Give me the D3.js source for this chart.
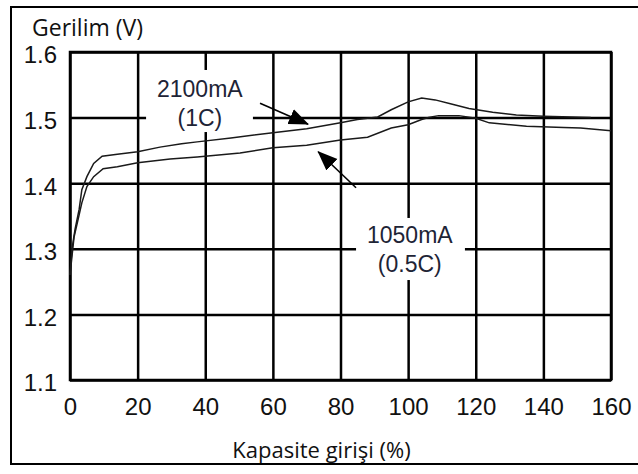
<!DOCTYPE html>
<html>
<head>
<meta charset="utf-8">
<script src="https://cdn.jsdelivr.net/npm/d3@7/dist/d3.min.js"></script>
<style>
	body { margin: 0; background: #fff; }
	svg { display: block; }
</style>
</head>
<body>
<svg id="chart" width="638" height="474"></svg>
<script>
	// capacity input (%) / voltage (V)
	var capHigh = [0, 0.6, 1.5, 2.7, 3.5, 5, 7, 9.5, 14, 20, 26.6, 33, 37.6, 47.6, 60, 70, 80, 85, 91, 95, 100, 104, 108, 112.5, 118, 125, 132, 140, 154],
		voltHigh = [1.26, 1.30, 1.33, 1.36, 1.39, 1.41, 1.43, 1.441, 1.444, 1.448, 1.455, 1.46, 1.463, 1.469, 1.477, 1.483, 1.492, 1.497, 1.501, 1.512, 1.524, 1.530, 1.527, 1.521, 1.514, 1.508, 1.504, 1.502, 1.500];

	var capLow = [0, 1.2, 2.4, 3.5, 5, 7, 9.8, 14, 20, 29.6, 37.6, 50.3, 60, 70, 80, 88, 95, 100, 104, 106, 109, 115, 120, 124, 135, 146, 151, 160],
		voltLow = [1.26, 1.318, 1.345, 1.37, 1.395, 1.41, 1.422, 1.425, 1.431, 1.437, 1.44, 1.446, 1.454, 1.458, 1.466, 1.47, 1.484, 1.489, 1.497, 1.5, 1.503, 1.503, 1.499, 1.492, 1.487, 1.485, 1.484, 1.48];

	var xTicks = [0, 20, 40, 60, 80, 100, 120, 140, 160],
		yTicks = [1.1, 1.2, 1.3, 1.4, 1.5, 1.6];

	var yTitle = "Gerilim (V)",
		xTitle = "Kapasite girişi (%)";

	// label lines, label box (x0, x1, v0, v1) and arrow (tail -> tip)
	var label1 = ["2100mA", "(1C)"],
		label1At = [38.4, 1.531, 1.487],
		label1Box = [22.5, 54.1, 1.5726, 1.478],
		arrow1 = [[56.2, 1.522], [70.4, 1.490]];

	var label2 = ["1050mA", "(0.5C)"],
		label2At = [100.5, 1.309, 1.265],
		label2Box = [84.6, 116.8, 1.347, 1.2524],
		arrow2 = [[84.6, 1.393], [73.4, 1.448]];

	var plotLeft = 70, plotTop = 52, plotRight = 611, plotBottom = 380;

	var svg = d3.select("#chart");

	var x = d3.scaleLinear().domain([0, 160]).range([plotLeft, plotRight]),
		y = d3.scaleLinear().domain([1.1, 1.6]).range([plotBottom, plotTop]);

	// outer frame
	svg.append("rect")
		.attr("x", 11).attr("y", 7)
		.attr("width", 660).attr("height", 457)
		.attr("fill", "none")
		.attr("stroke", "#000")
		.attr("stroke-width", 2);

	var xAxis = svg.append("g")
		.attr("transform", "translate(0," + plotBottom + ")")
		.call(d3.axisBottom(x).tickValues(xTicks).tickSize(-(plotBottom - plotTop)).tickSizeOuter(0).tickPadding(18).tickFormat(d3.format("d")));

	var yAxis = svg.append("g")
		.attr("transform", "translate(" + plotLeft + ",0)")
		.call(d3.axisLeft(y).tickValues(yTicks).tickSize(-(plotRight - plotLeft)).tickSizeOuter(0).tickPadding(13).tickFormat(d3.format(".1f")));

	[xAxis, yAxis].forEach(function(g) {
		g.select(".domain").remove();
		g.selectAll("line").attr("stroke", "#000").attr("stroke-width", 2.5);
		g.selectAll("text")
			.attr("fill", "#111")
			.style("font-family", "'Liberation Sans', Arial, sans-serif")
			.style("font-size", "24px");
	});
	yAxis.selectAll("text").attr("dy", "0.45em");

	// label boxes cut the grid
	[label1Box, label2Box].forEach(function(b) {
		svg.append("rect")
			.attr("x", x(b[0])).attr("y", y(b[2]))
			.attr("width", x(b[1]) - x(b[0]))
			.attr("height", y(b[3]) - y(b[2]))
			.attr("fill", "#fff");
	});

	svg.append("rect")
		.attr("x", plotLeft).attr("y", plotTop)
		.attr("width", plotRight - plotLeft).attr("height", plotBottom - plotTop)
		.attr("fill", "none")
		.attr("stroke", "#000")
		.attr("stroke-width", 2.5);

	var line = d3.line()
		.x(function(d) { return x(d[0]); })
		.y(function(d) { return y(d[1]); });

	[[capHigh, voltHigh], [capLow, voltLow]].forEach(function(s) {
		svg.append("path")
			.datum(d3.zip(s[0], s[1]))
			.attr("d", line)
			.attr("fill", "none")
			.attr("stroke", "#1a1a1a")
			.attr("stroke-width", 1.5);
	});

	svg.append("defs").append("marker")
		.attr("id", "head")
		.attr("markerUnits", "userSpaceOnUse")
		.attr("viewBox", "0 -9 20 18")
		.attr("refX", 19).attr("refY", 0)
		.attr("markerWidth", 20).attr("markerHeight", 18)
		.attr("orient", "auto")
		.append("path")
		.attr("d", "M0,-8L20,0L0,8Z")
		.attr("fill", "#000");

	[arrow1, arrow2].forEach(function(a) {
		svg.append("line")
			.attr("x1", x(a[0][0])).attr("y1", y(a[0][1]))
			.attr("x2", x(a[1][0])).attr("y2", y(a[1][1]))
			.attr("stroke", "#000")
			.attr("stroke-width", 1.6)
			.attr("marker-end", "url(#head)");
	});

	[[label1, label1At], [label2, label2At]].forEach(function(l) {
		l[0].forEach(function(t, i) {
			svg.append("text")
				.attr("x", x(l[1][0]))
				.attr("y", y(l[1][i + 1]))
				.attr("text-anchor", "middle")
				.attr("fill", "#1e2436")
				.style("font-family", "'Liberation Sans', Arial, sans-serif")
				.style("font-size", "23px")
				.text(t);
		});
	});

	svg.append("text")
		.attr("x", 32).attr("y", 36)
		.attr("fill", "#111")
		.style("font-family", "'Open Sans', sans-serif")
		.style("font-size", "23px")
		.text(yTitle);

	svg.append("text")
		.attr("x", (228 + 415) / 2).attr("y", 458)
		.attr("text-anchor", "middle")
		.attr("fill", "#111")
		.style("font-family", "'Open Sans', sans-serif")
		.style("font-size", "22px")
		.text(xTitle);
</script>
</body>
</html>
